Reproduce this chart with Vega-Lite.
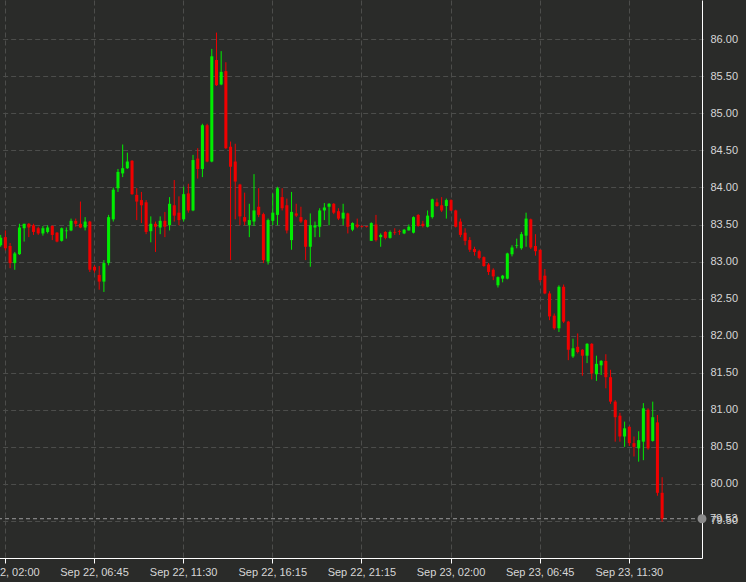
{
  "$schema": "https://vega.github.io/schema/vega-lite/v6.json",
  "width": 702,
  "height": 558,
  "autosize": "none",
  "padding": {"left": 0, "top": 0, "right": 44, "bottom": 24},
  "background": "#2a2b29",
  "config": {"view": {"stroke": null}, "font": "Liberation Sans"},
  "datasets": {
    "candles": [
      {"time":"2022-09-22 01:45","open":83.22,"high":83.36,"low":83.20,"close":83.32},
      {"time":"2022-09-22 02:00","open":83.33,"high":83.42,"low":83.15,"close":83.18},
      {"time":"2022-09-22 02:15","open":83.21,"high":83.25,"low":82.91,"close":82.98},
      {"time":"2022-09-22 02:30","open":82.98,"high":83.13,"low":82.89,"close":83.11},
      {"time":"2022-09-22 02:45","open":83.10,"high":83.51,"low":83.09,"close":83.46},
      {"time":"2022-09-22 03:00","open":83.45,"high":83.51,"low":83.27,"close":83.51},
      {"time":"2022-09-22 03:15","open":83.51,"high":83.52,"low":83.33,"close":83.46},
      {"time":"2022-09-22 03:30","open":83.49,"high":83.51,"low":83.36,"close":83.40},
      {"time":"2022-09-22 03:45","open":83.45,"high":83.47,"low":83.36,"close":83.38},
      {"time":"2022-09-22 04:00","open":83.38,"high":83.48,"low":83.35,"close":83.45},
      {"time":"2022-09-22 04:15","open":83.40,"high":83.49,"low":83.38,"close":83.46},
      {"time":"2022-09-22 04:30","open":83.48,"high":83.49,"low":83.29,"close":83.36},
      {"time":"2022-09-22 04:45","open":83.39,"high":83.40,"low":83.26,"close":83.27},
      {"time":"2022-09-22 05:00","open":83.28,"high":83.46,"low":83.27,"close":83.45},
      {"time":"2022-09-22 05:15","open":83.41,"high":83.46,"low":83.31,"close":83.42},
      {"time":"2022-09-22 05:30","open":83.42,"high":83.58,"low":83.41,"close":83.55},
      {"time":"2022-09-22 05:45","open":83.55,"high":83.58,"low":83.47,"close":83.51},
      {"time":"2022-09-22 06:00","open":83.51,"high":83.81,"low":83.45,"close":83.46},
      {"time":"2022-09-22 06:15","open":83.46,"high":83.60,"low":83.42,"close":83.54},
      {"time":"2022-09-22 06:30","open":83.54,"high":83.55,"low":82.86,"close":82.89},
      {"time":"2022-09-22 06:45","open":82.93,"high":82.95,"low":82.85,"close":82.88},
      {"time":"2022-09-22 07:00","open":82.82,"high":82.94,"low":82.62,"close":82.73},
      {"time":"2022-09-22 07:15","open":82.73,"high":83.02,"low":82.59,"close":82.98},
      {"time":"2022-09-22 07:30","open":82.98,"high":83.63,"low":82.95,"close":83.60},
      {"time":"2022-09-22 07:45","open":83.57,"high":84.00,"low":83.54,"close":83.97},
      {"time":"2022-09-22 08:00","open":83.99,"high":84.25,"low":83.94,"close":84.21},
      {"time":"2022-09-22 08:15","open":84.19,"high":84.58,"low":84.14,"close":84.26},
      {"time":"2022-09-22 08:30","open":84.26,"high":84.47,"low":84.25,"close":84.35},
      {"time":"2022-09-22 08:45","open":84.36,"high":84.37,"low":83.90,"close":83.91},
      {"time":"2022-09-22 09:00","open":83.90,"high":83.99,"low":83.56,"close":83.81},
      {"time":"2022-09-22 09:15","open":83.83,"high":83.94,"low":83.52,"close":83.76},
      {"time":"2022-09-22 09:30","open":83.80,"high":83.83,"low":83.37,"close":83.40},
      {"time":"2022-09-22 09:45","open":83.41,"high":83.61,"low":83.26,"close":83.51},
      {"time":"2022-09-22 10:00","open":83.51,"high":83.54,"low":83.13,"close":83.47},
      {"time":"2022-09-22 10:15","open":83.46,"high":83.61,"low":83.37,"close":83.55},
      {"time":"2022-09-22 10:30","open":83.55,"high":83.67,"low":83.33,"close":83.47},
      {"time":"2022-09-22 10:45","open":83.49,"high":83.87,"low":83.42,"close":83.78},
      {"time":"2022-09-22 11:00","open":83.76,"high":84.10,"low":83.54,"close":83.62},
      {"time":"2022-09-22 11:15","open":83.66,"high":83.88,"low":83.49,"close":83.56},
      {"time":"2022-09-22 11:30","open":83.57,"high":84.01,"low":83.54,"close":83.91},
      {"time":"2022-09-22 11:45","open":83.92,"high":84.05,"low":83.66,"close":83.69},
      {"time":"2022-09-22 12:00","open":83.69,"high":84.44,"low":83.68,"close":84.37},
      {"time":"2022-09-22 12:15","open":84.39,"high":84.53,"low":84.12,"close":84.25},
      {"time":"2022-09-22 12:30","open":84.25,"high":84.86,"low":84.14,"close":84.84},
      {"time":"2022-09-22 12:45","open":84.84,"high":84.86,"low":84.34,"close":84.35},
      {"time":"2022-09-22 13:00","open":84.35,"high":85.87,"low":84.34,"close":85.77},
      {"time":"2022-09-22 13:15","open":85.72,"high":86.09,"low":85.37,"close":85.38},
      {"time":"2022-09-22 13:30","open":85.39,"high":85.84,"low":85.38,"close":85.56},
      {"time":"2022-09-22 13:45","open":85.57,"high":85.69,"low":84.52,"close":84.53},
      {"time":"2022-09-22 14:00","open":84.55,"high":84.62,"low":83.02,"close":84.28},
      {"time":"2022-09-22 14:15","open":84.35,"high":84.59,"low":83.57,"close":84.08},
      {"time":"2022-09-22 14:30","open":84.04,"high":84.05,"low":83.49,"close":83.61},
      {"time":"2022-09-22 14:45","open":83.60,"high":83.93,"low":83.49,"close":83.54},
      {"time":"2022-09-22 15:00","open":83.49,"high":83.78,"low":83.33,"close":83.56},
      {"time":"2022-09-22 15:15","open":83.54,"high":84.18,"low":83.48,"close":83.69},
      {"time":"2022-09-22 15:30","open":83.74,"high":83.99,"low":83.60,"close":83.63},
      {"time":"2022-09-22 15:45","open":83.64,"high":83.66,"low":82.98,"close":83.02},
      {"time":"2022-09-22 16:00","open":83.00,"high":83.58,"low":82.96,"close":83.56},
      {"time":"2022-09-22 16:15","open":83.55,"high":83.92,"low":83.49,"close":83.66},
      {"time":"2022-09-22 16:30","open":83.63,"high":84.01,"low":83.49,"close":83.99},
      {"time":"2022-09-22 16:45","open":83.87,"high":83.99,"low":83.69,"close":83.72},
      {"time":"2022-09-22 17:15","open":83.76,"high":83.85,"low":83.38,"close":83.42},
      {"time":"2022-09-22 17:30","open":83.29,"high":83.94,"low":83.16,"close":83.67},
      {"time":"2022-09-22 17:45","open":83.65,"high":83.78,"low":83.60,"close":83.62},
      {"time":"2022-09-22 18:00","open":83.60,"high":83.74,"low":83.52,"close":83.54},
      {"time":"2022-09-22 18:15","open":83.56,"high":83.57,"low":83.02,"close":83.20},
      {"time":"2022-09-22 18:30","open":83.20,"high":83.65,"low":82.93,"close":83.49},
      {"time":"2022-09-22 18:45","open":83.46,"high":83.54,"low":83.33,"close":83.49},
      {"time":"2022-09-22 19:00","open":83.47,"high":83.72,"low":83.33,"close":83.69},
      {"time":"2022-09-22 19:15","open":83.69,"high":83.79,"low":83.56,"close":83.73},
      {"time":"2022-09-22 19:30","open":83.74,"high":83.79,"low":83.49,"close":83.78},
      {"time":"2022-09-22 19:45","open":83.78,"high":83.79,"low":83.64,"close":83.66},
      {"time":"2022-09-22 20:00","open":83.68,"high":83.72,"low":83.56,"close":83.58},
      {"time":"2022-09-22 20:15","open":83.58,"high":83.78,"low":83.49,"close":83.66},
      {"time":"2022-09-22 20:30","open":83.65,"high":83.66,"low":83.38,"close":83.47},
      {"time":"2022-09-22 20:45","open":83.43,"high":83.53,"low":83.41,"close":83.52},
      {"time":"2022-09-22 21:00","open":83.50,"high":83.58,"low":83.45,"close":83.47},
      {"time":"2022-09-22 21:15","open":83.48,"high":83.49,"low":83.46,"close":83.47},
      {"time":"2022-09-22 21:30","open":83.48,"high":83.48,"low":83.46,"close":83.47},
      {"time":"2022-09-22 21:45","open":83.28,"high":83.53,"low":83.28,"close":83.52},
      {"time":"2022-09-22 22:00","open":83.50,"high":83.63,"low":83.27,"close":83.29},
      {"time":"2022-09-22 22:15","open":83.33,"high":83.38,"low":83.20,"close":83.36},
      {"time":"2022-09-22 22:30","open":83.40,"high":83.41,"low":83.30,"close":83.32},
      {"time":"2022-09-22 22:45","open":83.32,"high":83.42,"low":83.31,"close":83.40},
      {"time":"2022-09-22 23:00","open":83.40,"high":83.45,"low":83.36,"close":83.39},
      {"time":"2022-09-22 23:15","open":83.41,"high":83.43,"low":83.36,"close":83.40},
      {"time":"2022-09-22 23:30","open":83.38,"high":83.44,"low":83.37,"close":83.43},
      {"time":"2022-09-22 23:45","open":83.42,"high":83.50,"low":83.42,"close":83.47},
      {"time":"2022-09-23 00:00","open":83.39,"high":83.61,"low":83.38,"close":83.60},
      {"time":"2022-09-23 00:15","open":83.63,"high":83.64,"low":83.47,"close":83.48},
      {"time":"2022-09-23 00:30","open":83.51,"high":83.55,"low":83.46,"close":83.48},
      {"time":"2022-09-23 00:45","open":83.47,"high":83.69,"low":83.46,"close":83.62},
      {"time":"2022-09-23 01:00","open":83.60,"high":83.85,"low":83.58,"close":83.84},
      {"time":"2022-09-23 01:15","open":83.80,"high":83.85,"low":83.74,"close":83.75},
      {"time":"2022-09-23 01:30","open":83.76,"high":83.87,"low":83.67,"close":83.69},
      {"time":"2022-09-23 01:45","open":83.75,"high":83.85,"low":83.58,"close":83.83},
      {"time":"2022-09-23 02:00","open":83.83,"high":83.84,"low":83.68,"close":83.69},
      {"time":"2022-09-23 02:15","open":83.69,"high":83.70,"low":83.46,"close":83.47},
      {"time":"2022-09-23 02:30","open":83.54,"high":83.58,"low":83.33,"close":83.36},
      {"time":"2022-09-23 02:45","open":83.39,"high":83.45,"low":83.22,"close":83.28},
      {"time":"2022-09-23 03:00","open":83.29,"high":83.33,"low":83.13,"close":83.16},
      {"time":"2022-09-23 03:15","open":83.17,"high":83.20,"low":83.08,"close":83.13},
      {"time":"2022-09-23 03:30","open":83.14,"high":83.16,"low":83.03,"close":83.05},
      {"time":"2022-09-23 03:45","open":83.06,"high":83.07,"low":82.93,"close":82.94},
      {"time":"2022-09-23 04:00","open":82.96,"high":82.98,"low":82.82,"close":82.86},
      {"time":"2022-09-23 04:15","open":82.89,"high":82.91,"low":82.75,"close":82.80},
      {"time":"2022-09-23 04:30","open":82.68,"high":82.80,"low":82.65,"close":82.79},
      {"time":"2022-09-23 04:45","open":82.77,"high":82.82,"low":82.72,"close":82.81},
      {"time":"2022-09-23 05:00","open":82.77,"high":83.12,"low":82.76,"close":83.11},
      {"time":"2022-09-23 05:15","open":83.10,"high":83.22,"low":83.07,"close":83.19},
      {"time":"2022-09-23 05:30","open":83.21,"high":83.31,"low":83.18,"close":83.22},
      {"time":"2022-09-23 05:45","open":83.18,"high":83.40,"low":83.16,"close":83.37},
      {"time":"2022-09-23 06:00","open":83.35,"high":83.66,"low":83.20,"close":83.58},
      {"time":"2022-09-23 06:15","open":83.57,"high":83.58,"low":83.17,"close":83.19},
      {"time":"2022-09-23 06:30","open":83.21,"high":83.37,"low":83.08,"close":83.14},
      {"time":"2022-09-23 06:45","open":83.16,"high":83.16,"low":82.72,"close":82.75},
      {"time":"2022-09-23 07:00","open":82.81,"high":82.90,"low":82.56,"close":82.57},
      {"time":"2022-09-23 07:15","open":82.57,"high":82.60,"low":82.21,"close":82.26},
      {"time":"2022-09-23 07:30","open":82.27,"high":82.30,"low":82.08,"close":82.10},
      {"time":"2022-09-23 07:45","open":82.10,"high":82.68,"low":82.05,"close":82.66},
      {"time":"2022-09-23 08:00","open":82.66,"high":82.69,"low":82.17,"close":82.19},
      {"time":"2022-09-23 08:15","open":82.19,"high":82.20,"low":81.67,"close":81.81},
      {"time":"2022-09-23 08:30","open":81.72,"high":81.96,"low":81.70,"close":81.83},
      {"time":"2022-09-23 08:45","open":81.85,"high":82.03,"low":81.76,"close":81.78},
      {"time":"2022-09-23 09:00","open":81.81,"high":81.82,"low":81.46,"close":81.73},
      {"time":"2022-09-23 09:15","open":81.73,"high":81.90,"low":81.63,"close":81.89},
      {"time":"2022-09-23 09:30","open":81.89,"high":81.90,"low":81.41,"close":81.49},
      {"time":"2022-09-23 09:45","open":81.48,"high":81.73,"low":81.39,"close":81.62},
      {"time":"2022-09-23 10:00","open":81.60,"high":81.67,"low":81.47,"close":81.66},
      {"time":"2022-09-23 10:15","open":81.66,"high":81.75,"low":81.29,"close":81.44},
      {"time":"2022-09-23 10:30","open":81.44,"high":81.54,"low":81.08,"close":81.11},
      {"time":"2022-09-23 10:45","open":81.11,"high":81.13,"low":80.57,"close":80.90},
      {"time":"2022-09-23 11:00","open":80.92,"high":80.96,"low":80.57,"close":80.64},
      {"time":"2022-09-23 11:15","open":80.64,"high":80.84,"low":80.50,"close":80.75},
      {"time":"2022-09-23 11:30","open":80.77,"high":80.78,"low":80.51,"close":80.55},
      {"time":"2022-09-23 11:45","open":80.55,"high":80.64,"low":80.37,"close":80.50},
      {"time":"2022-09-23 12:00","open":80.48,"high":80.71,"low":80.30,"close":80.59},
      {"time":"2022-09-23 12:15","open":80.57,"high":81.09,"low":80.32,"close":81.02},
      {"time":"2022-09-23 12:30","open":81.00,"high":81.02,"low":80.46,"close":80.48},
      {"time":"2022-09-23 12:45","open":80.58,"high":81.11,"low":80.57,"close":80.90},
      {"time":"2022-09-23 13:00","open":80.83,"high":80.93,"low":79.84,"close":79.88},
      {"time":"2022-09-23 13:15","open":79.88,"high":80.09,"low":79.49,"close":79.53}
    ],
    "last": [{"price": 79.53}]
  },
  "layer": [
    {
      "data": {"name": "candles"},
      "encoding": {
        "x": {
          "field": "time",
          "type": "ordinal",
          "title": null,
          "scale": {
            "range": [-1.65, 702],
            "paddingInner": 0,
            "paddingOuter": 0,
            "domain": [
              "2022-09-22 01:45","2022-09-22 02:00","2022-09-22 02:15","2022-09-22 02:30","2022-09-22 02:45","2022-09-22 03:00","2022-09-22 03:15","2022-09-22 03:30","2022-09-22 03:45","2022-09-22 04:00",
              "2022-09-22 04:15","2022-09-22 04:30","2022-09-22 04:45","2022-09-22 05:00","2022-09-22 05:15","2022-09-22 05:30","2022-09-22 05:45","2022-09-22 06:00","2022-09-22 06:15","2022-09-22 06:30",
              "2022-09-22 06:45","2022-09-22 07:00","2022-09-22 07:15","2022-09-22 07:30","2022-09-22 07:45","2022-09-22 08:00","2022-09-22 08:15","2022-09-22 08:30","2022-09-22 08:45","2022-09-22 09:00",
              "2022-09-22 09:15","2022-09-22 09:30","2022-09-22 09:45","2022-09-22 10:00","2022-09-22 10:15","2022-09-22 10:30","2022-09-22 10:45","2022-09-22 11:00","2022-09-22 11:15","2022-09-22 11:30",
              "2022-09-22 11:45","2022-09-22 12:00","2022-09-22 12:15","2022-09-22 12:30","2022-09-22 12:45","2022-09-22 13:00","2022-09-22 13:15","2022-09-22 13:30","2022-09-22 13:45","2022-09-22 14:00",
              "2022-09-22 14:15","2022-09-22 14:30","2022-09-22 14:45","2022-09-22 15:00","2022-09-22 15:15","2022-09-22 15:30","2022-09-22 15:45","2022-09-22 16:00","2022-09-22 16:15","2022-09-22 16:30",
              "2022-09-22 16:45","2022-09-22 17:15","2022-09-22 17:30","2022-09-22 17:45","2022-09-22 18:00","2022-09-22 18:15","2022-09-22 18:30","2022-09-22 18:45","2022-09-22 19:00","2022-09-22 19:15",
              "2022-09-22 19:30","2022-09-22 19:45","2022-09-22 20:00","2022-09-22 20:15","2022-09-22 20:30","2022-09-22 20:45","2022-09-22 21:00","2022-09-22 21:15","2022-09-22 21:30","2022-09-22 21:45",
              "2022-09-22 22:00","2022-09-22 22:15","2022-09-22 22:30","2022-09-22 22:45","2022-09-22 23:00","2022-09-22 23:15","2022-09-22 23:30","2022-09-22 23:45","2022-09-23 00:00","2022-09-23 00:15",
              "2022-09-23 00:30","2022-09-23 00:45","2022-09-23 01:00","2022-09-23 01:15","2022-09-23 01:30","2022-09-23 01:45","2022-09-23 02:00","2022-09-23 02:15","2022-09-23 02:30","2022-09-23 02:45",
              "2022-09-23 03:00","2022-09-23 03:15","2022-09-23 03:30","2022-09-23 03:45","2022-09-23 04:00","2022-09-23 04:15","2022-09-23 04:30","2022-09-23 04:45","2022-09-23 05:00","2022-09-23 05:15",
              "2022-09-23 05:30","2022-09-23 05:45","2022-09-23 06:00","2022-09-23 06:15","2022-09-23 06:30","2022-09-23 06:45","2022-09-23 07:00","2022-09-23 07:15","2022-09-23 07:30","2022-09-23 07:45",
              "2022-09-23 08:00","2022-09-23 08:15","2022-09-23 08:30","2022-09-23 08:45","2022-09-23 09:00","2022-09-23 09:15","2022-09-23 09:30","2022-09-23 09:45","2022-09-23 10:00","2022-09-23 10:15",
              "2022-09-23 10:30","2022-09-23 10:45","2022-09-23 11:00","2022-09-23 11:15","2022-09-23 11:30","2022-09-23 11:45","2022-09-23 12:00","2022-09-23 12:15","2022-09-23 12:30","2022-09-23 12:45",
              "2022-09-23 13:00","2022-09-23 13:15","2022-09-23 13:30","2022-09-23 13:45","2022-09-23 14:00","2022-09-23 14:15","2022-09-23 14:30","2022-09-23 14:45","2022-09-23 15:00","2022-09-23 15:15"
            ]
          },
          "axis": {
            "values": ["2022-09-22 02:00", "2022-09-22 06:45", "2022-09-22 11:30", "2022-09-22 16:15", "2022-09-22 21:15", "2022-09-23 02:00", "2022-09-23 06:45", "2022-09-23 11:30"],
            "labelExpr": "timeFormat(toDate(replace(datum.value, ' ', 'T')), '%b %d, %H:%M')",
            "bandPosition": 0.5,
            "grid": true,
            "gridColor": "#4c4d4b",
            "gridDash": [5, 3],
            "gridWidth": 1,
            "domainColor": "#ffffff",
            "domainWidth": 1,
            "tickColor": "#ffffff",
            "tickSize": 5,
            "labelColor": "#d6d6d6",
            "labelFontSize": 11,
            "labelAngle": 0,
            "labelPadding": 3,
            "labelOverlap": false,
            "labelBound": false
          }
        },
        "color": {"condition": {"test": "datum.close >= datum.open", "value": "#00ee00"}, "value": "#f00000"}
      },
      "layer": [
        {
          "mark": {"type": "rule", "strokeWidth": 1, "clip": true},
          "encoding": {
            "y": {
              "field": "low",
              "type": "quantitative",
              "title": null,
              "scale": {"domain": [79.0, 86.53], "nice": false, "zero": false},
              "axis": {
                "orient": "right",
                "values": [79.5, 80, 80.5, 81, 81.5, 82, 82.5, 83, 83.5, 84, 84.5, 85, 85.5, 86],
                "format": ".2f",
                "grid": true,
                "gridColor": "#4c4d4b",
                "gridDash": [5, 3],
                "domainColor": "#ffffff",
                "domainWidth": 1,
                "ticks": false,
                "labelColor": "#d6d6d6",
                "labelFontSize": 11,
                "labelPadding": 8
              }
            },
            "y2": {"field": "high"}
          }
        },
        {
          "mark": {"type": "bar", "width": {"band": 0.65}, "clip": true},
          "encoding": {
            "y": {"field": "open", "type": "quantitative", "title": null},
            "y2": {"field": "close"}
          }
        }
      ]
    },
    {
      "data": {"name": "last"},
      "layer": [
        {
          "mark": {"type": "rule", "color": "#9a9a9a", "strokeDash": [4, 3], "strokeWidth": 1},
          "encoding": {"y": {"field": "price", "type": "quantitative", "title": null}}
        },
        {
          "mark": {"type": "point", "filled": true, "color": "#8a8a8a", "size": 80, "opacity": 1},
          "encoding": {
            "x": {"datum": 1, "type": "quantitative", "scale": {"domain": [0, 1]}, "axis": null},
            "y": {"field": "price", "type": "quantitative", "title": null}
          }
        },
        {
          "mark": {"type": "text", "align": "left", "baseline": "middle", "dx": 8, "color": "#d6d6d6", "fontSize": 11},
          "encoding": {
            "x": {"datum": 1, "type": "quantitative", "scale": {"domain": [0, 1]}, "axis": null},
            "y": {"field": "price", "type": "quantitative", "title": null},
            "text": {"field": "price", "type": "quantitative", "format": ".2f"}
          }
        }
      ]
    }
  ],
  "resolve": {"scale": {"x": "independent"}}
}
